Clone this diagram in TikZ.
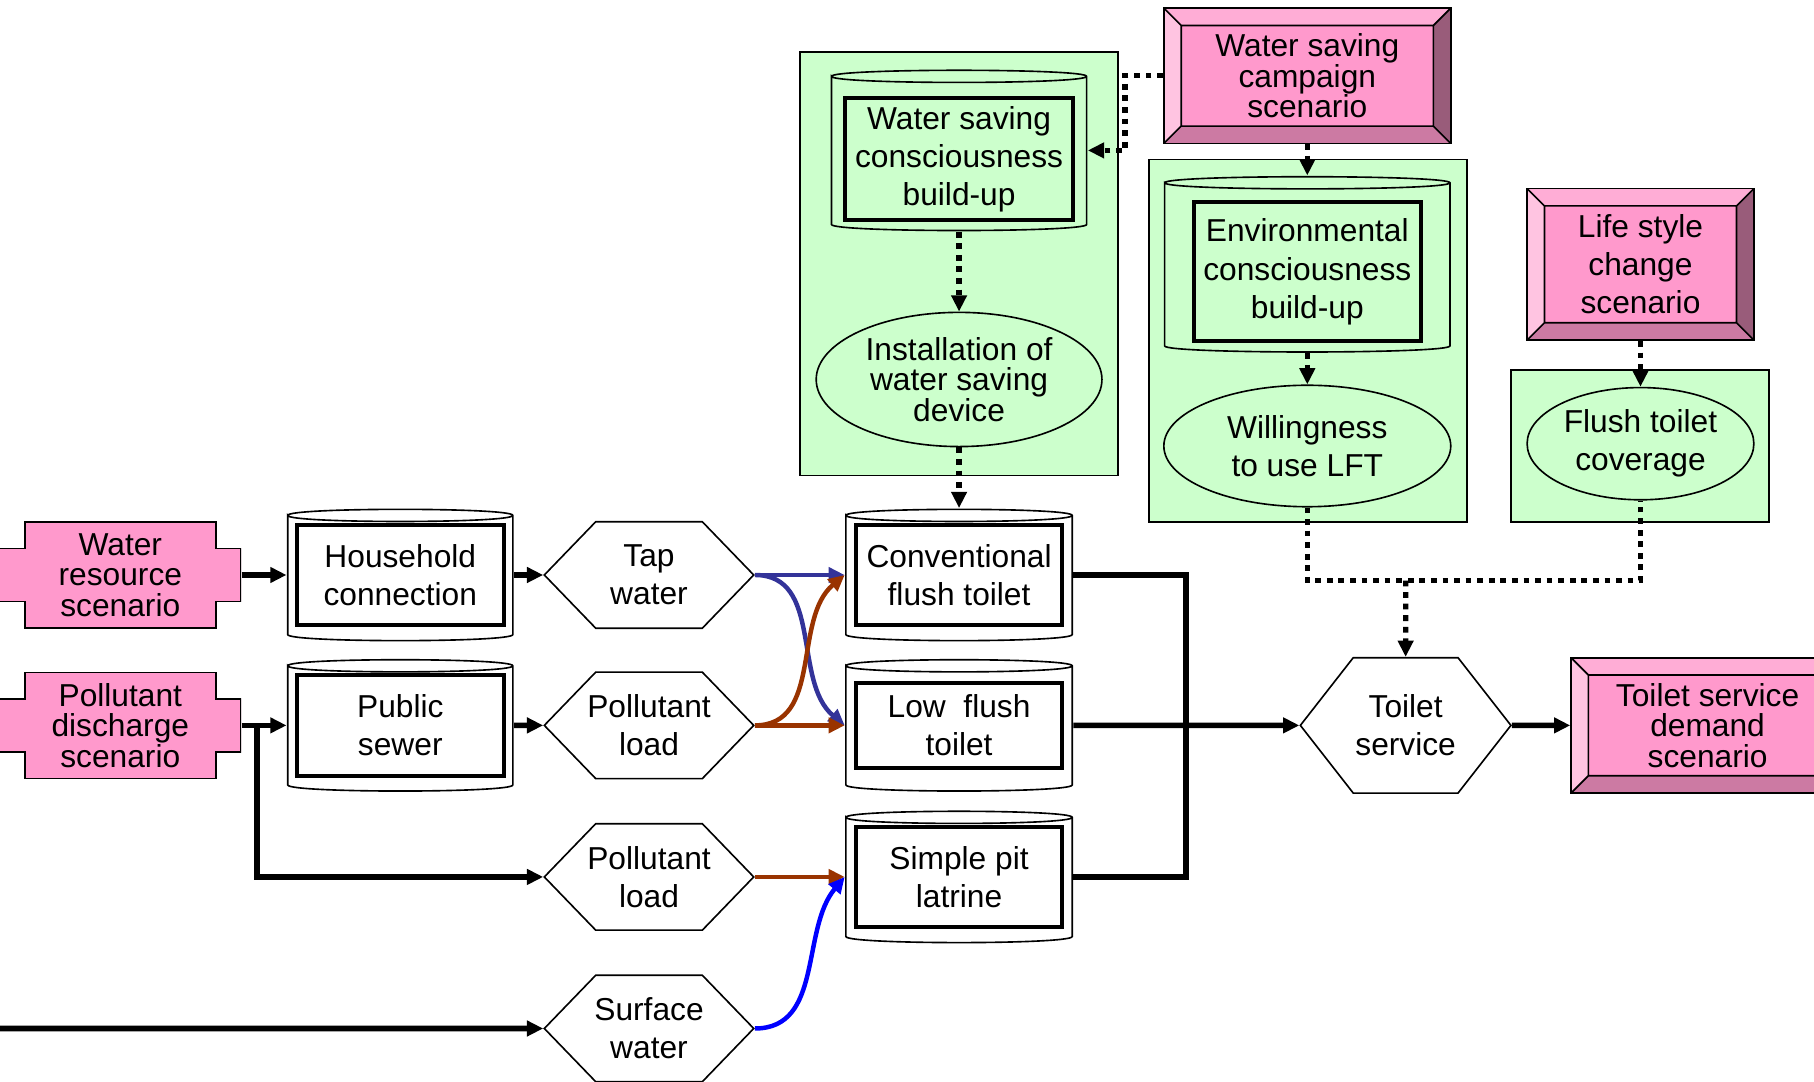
\documentclass[tikz,border=0pt]{standalone}
\usepackage{fontspec}
\setmainfont{Liberation Sans}
\usetikzlibrary{shapes.geometric, shapes.symbols, arrows.meta, positioning}

\definecolor{facepink}{HTML}{FF99CC}
\definecolor{toppink}{HTML}{FFADD6}
\definecolor{leftpink}{HTML}{FFC4E1}
\definecolor{botpink}{HTML}{CC7AA3}
\definecolor{rightpink}{HTML}{995C7A}
\definecolor{lgreen}{HTML}{CCFFCC}
\definecolor{tapblue}{HTML}{333399}
\definecolor{loadbrown}{HTML}{993300}
\definecolor{surfblue}{HTML}{0000FF}

\newcommand{\fnttight}{\fontsize{15.6}{15.1}\selectfont}
\newcommand{\fntnorm}{\fontsize{15.6}{18.8}\selectfont}

\tikzset{
  cyl/.style={minimum width=3.94cm, minimum height=2.3cm, inner sep=0pt,
    path picture={
      \coordinate (tl) at ([shift={(0.4pt,-1.2mm)}]path picture bounding box.north west);
      \coordinate (tr) at ([shift={(-0.4pt,-1.2mm)}]path picture bounding box.north east);
      \coordinate (bl) at ([shift={(0.4pt,1.2mm)}]path picture bounding box.south west);
      \coordinate (br) at ([shift={(-0.4pt,1.2mm)}]path picture bounding box.south east);
      \draw[line width=0.8pt] (tl) .. controls ([yshift=1.4mm]tl) and ([yshift=1.4mm]tr) .. (tr)
        .. controls ([yshift=-1.4mm]tr) and ([yshift=-1.4mm]tl) .. (tl) -- (bl)
        .. controls ([yshift=-1.4mm]bl) and ([yshift=-1.4mm]br) .. (br) -- (tr);
    }},
  inbox/.style={draw, line width=2pt, align=center, font=\fntnorm, minimum width=3.56cm, minimum height=1.74cm, inner sep=1pt},
  hexa/.style={draw, signal, signal to=west and east, signal pointer angle=92, fill=white, line width=0.8pt, align=center, font=\fntnorm, minimum width=3.62cm, minimum height=1.84cm, inner ysep=1pt, inner xsep=-0.3cm},
  grn/.style={draw, fill=lgreen, line width=0.8pt},
  oval/.style={draw, ellipse, fill=lgreen, line width=0.8pt, align=center, inner sep=0pt},
  thk/.style={line width=2.8pt},
  flow/.style={line width=2.2pt},
  dotln/.style={line width=2.6pt, dash pattern=on 1mm off 1mm},
  plus/.style={align=center, font=\fnttight, inner sep=0pt, minimum width=4.18cm, minimum height=1.84cm,
    path picture={
      \coordinate (a) at (path picture bounding box.north west);
      \coordinate (b) at (path picture bounding box.north east);
      \coordinate (c) at (path picture bounding box.south east);
      \coordinate (d) at (path picture bounding box.south west);
      \filldraw[fill=facepink, line width=0.8pt] ([xshift=4.4mm]a) -- ([xshift=-4.4mm]b) -- ([shift={(-4.4mm,-4.6mm)}]b) -- ([yshift=-4.6mm]b)
        -- ([yshift=4.6mm]c) -- ([shift={(-4.4mm,4.6mm)}]c) -- ([xshift=-4.4mm]c) -- ([xshift=4.4mm]d)
        -- ([shift={(4.4mm,4.6mm)}]d) -- ([yshift=4.6mm]d) -- ([yshift=-4.6mm]a) -- ([shift={(4.4mm,-4.6mm)}]a) -- cycle;
    }},
  bevel/.style={draw, fill=facepink, line width=0.8pt, align=center, font=\fnttight, inner sep=0pt,
    path picture={
      \coordinate (nw) at (path picture bounding box.north west);
      \coordinate (ne) at (path picture bounding box.north east);
      \coordinate (se) at (path picture bounding box.south east);
      \coordinate (sw) at (path picture bounding box.south west);
      \fill[toppink] (nw) -- (ne) -- ([shift={(-3mm,-3mm)}]ne) -- ([shift={(3mm,-3mm)}]nw) -- cycle;
      \fill[leftpink] (nw) -- ([shift={(3mm,-3mm)}]nw) -- ([shift={(3mm,3mm)}]sw) -- (sw) -- cycle;
      \fill[botpink] (sw) -- ([shift={(3mm,3mm)}]sw) -- ([shift={(-3mm,3mm)}]se) -- (se) -- cycle;
      \fill[rightpink] (se) -- ([shift={(-3mm,3mm)}]se) -- ([shift={(-3mm,-3mm)}]ne) -- (ne) -- cycle;
      \draw[line width=0.8pt] ([shift={(3mm,-3mm)}]nw) rectangle ([shift={(-3mm,3mm)}]se)
        (nw) -- ([shift={(3mm,-3mm)}]nw) (ne) -- ([shift={(-3mm,-3mm)}]ne)
        (se) -- ([shift={(-3mm,3mm)}]se) (sw) -- ([shift={(3mm,3mm)}]sw);
    }},
}

\begin{document}
\begin{tikzpicture}[>={Triangle[length=2.8mm, width=2.6mm]}]
    \useasboundingbox (0,0) rectangle (31.36,-18.7);

    \node[cyl] (conv_cyl) at (16.58,-9.94) {};
    \node[inbox] (conv) at (conv_cyl) {Conventional\\flush toilet};
    \node[cyl] (low_cyl) at ([yshift=-2.6cm] conv_cyl) {};
    \node[inbox, minimum height=1.48cm] (low) at (low_cyl) {Low\ \ flush\\toilet};
    \node[cyl] (pit_cyl) at ([yshift=-5.22cm] conv_cyl) {};
    \node[inbox, minimum height=1.72cm] (pit) at (pit_cyl) {Simple pit\\latrine};

    \node[cyl, minimum width=3.92cm] (house_cyl) at ([xshift=-9.66cm] conv_cyl) {};
    \node[inbox, minimum width=3.58cm] (house) at (house_cyl) {Household\\connection};
    \node[cyl, minimum width=3.92cm] (sewer_cyl) at ([xshift=-9.66cm, yshift=-2.6cm] conv_cyl) {};
    \node[inbox, minimum width=3.58cm] (sewer) at (sewer_cyl) {Public\\sewer};

    \node[plus] (wres) at ([xshift=-14.5cm] conv_cyl) {Water\\resource\\scenario};
    \node[plus] (pdis) at ([xshift=-14.5cm, yshift=-2.6cm] conv_cyl) {Pollutant\\discharge\\scenario};

    \node[hexa] (tap) at ([xshift=-5.36cm] conv_cyl) {Tap\\water};
    \node[hexa] (load) at ([xshift=-5.36cm, yshift=-2.6cm] conv_cyl) {Pollutant\\load};
    \node[hexa] (load2) at ([xshift=-5.36cm, yshift=-5.22cm] conv_cyl) {Pollutant\\load};
    \node[hexa] (surf) at ([xshift=-5.36cm, yshift=-7.84cm] conv_cyl) {Surface\\water};

    \node[hexa, minimum width=3.64cm, minimum height=2.34cm, signal pointer angle=104] (toilet) at ([xshift=7.72cm, yshift=-2.6cm] conv_cyl) {Toilet\\service};
    \node[bevel, minimum width=4.72cm, minimum height=2.34cm] (demand) at ([xshift=12.94cm, yshift=-2.6cm] conv_cyl) {Toilet service\\demand\\scenario};

    \node[grn, minimum width=5.5cm, minimum height=7.32cm] (ws_box) at ([yshift=5.38cm] conv_cyl) {};
    \node[cyl, minimum width=4.44cm, minimum height=2.8cm] (ws_cyl) at ([yshift=7.34cm] conv_cyl) {};
    \node[inbox, minimum width=3.94cm, minimum height=2.1cm] (ws) at ([yshift=7.19cm] conv_cyl) {Water saving\\consciousness\\build-up};
    \node[oval, minimum width=4.94cm, minimum height=2.32cm, font=\fnttight] (install) at ([yshift=3.38cm] conv_cyl) {Installation of\\water saving\\device};

    \node[bevel, minimum width=4.96cm, minimum height=2.34cm] (camp) at ([xshift=6.02cm, yshift=8.63cm] conv_cyl) {Water saving\\campaign\\scenario};
    \node[grn, minimum width=5.5cm, minimum height=6.26cm] (env_box) at ([xshift=6.03cm, yshift=4.05cm] conv_cyl) {};
    \node[cyl, minimum width=4.96cm, minimum height=3.06cm] (env_cyl) at ([xshift=6.02cm, yshift=5.37cm] conv_cyl) {};
    \node[inbox, minimum width=3.92cm, minimum height=2.4cm] (env) at ([xshift=6.02cm, yshift=5.24cm] conv_cyl) {Environmental\\consciousness\\build-up};
    \node[oval, minimum width=4.96cm, minimum height=2.1cm, font=\fntnorm] (will) at ([xshift=6.02cm, yshift=2.23cm] conv_cyl) {Willingness\\to use LFT};

    \node[bevel, font=\fntnorm, minimum width=3.92cm, minimum height=2.62cm] (life) at ([xshift=11.78cm, yshift=5.37cm] conv_cyl) {Life style\\change\\scenario};
    \node[grn, minimum width=4.46cm, minimum height=2.62cm] (fl_box) at ([xshift=11.77cm, yshift=2.23cm] conv_cyl) {};
    \node[oval, minimum width=3.92cm, minimum height=1.94cm, font=\fntnorm] (cover) at ([xshift=11.78cm, yshift=2.27cm] conv_cyl) {Flush toilet\\coverage};

    \coordinate (join) at ([yshift=1.32cm] toilet.north);
    \coordinate (sw_in) at ([xshift=-9.42cm] surf.west);

    \draw[thk,->] (wres) -- (house_cyl);
    \draw[thk,->] (house_cyl) -- (tap);
    \draw[thk,->] (pdis) -- (sewer_cyl);
    \draw[thk,->] ([xshift=0.26cm]pdis.east) |- (load2);
    \draw[thk,->] (sewer_cyl) -- (load);
    \draw[thk,->] (sw_in) -- (surf);

    \draw[flow, tapblue, ->] (tap.east) -- (conv_cyl.west);
    \draw[flow, tapblue, ->] (tap.east) to[out=0, in=140] (low_cyl.west);
    \draw[flow, loadbrown, ->] (load.east) -- (low_cyl.west);
    \draw[flow, loadbrown, ->] (load.east) to[out=0, in=-140] (conv_cyl.west);
    \draw[flow, loadbrown, ->] (load2.east) -- (pit_cyl.west);
    \draw[flow, surfblue, ->] (surf.east) to[out=0, in=-130] (pit_cyl.west);

    \draw[thk] (conv_cyl.east) -- ++(1.94,0) |- (pit_cyl.east);
    \draw[thk,->] (low_cyl) -- (toilet);
    \draw[thk,->] (toilet) -- (demand);

    \draw[dotln,->] (ws_cyl) -- (install);
    \draw[dotln,->] (install) -- (conv_cyl);
    \draw[dotln,->] (camp.west) -- ++(-0.66,0) |- (ws_cyl.east);
    \draw[dotln,->] (camp) -- (env_cyl);
    \draw[dotln,->] (env_cyl) -- (will);
    \draw[dotln,->] (life) -- (cover);
    \draw[dotln] (will.south) |- (join) -| (cover.south);
    \draw[dotln,->] (join) -- (toilet);

\end{tikzpicture}
\end{document}
